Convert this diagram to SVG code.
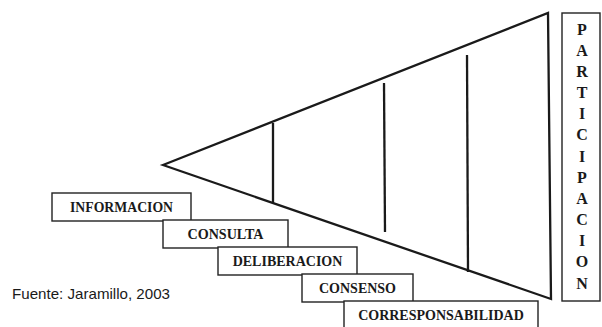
<svg xmlns="http://www.w3.org/2000/svg" width="602" height="327" viewBox="0 0 602 327">
<style>
.box{fill:#fff;stroke:#222;stroke-width:1.4}
.lbl{font-family:"Liberation Serif","Times New Roman",serif;font-weight:bold;font-size:14px;fill:#1a1a1a;text-anchor:middle}
.vl{font-family:"Liberation Serif","Times New Roman",serif;font-weight:bold;font-size:16px;fill:#1a1a1a;text-anchor:middle}
.ln{stroke:#1a1a1a;stroke-width:2.3;fill:none;stroke-linejoin:miter}
</style>
<rect width="602" height="327" fill="#fff"/>
<g id="connectors">
<polygon class="ln" points="163,165 548,13 551,299"/>
<line class="ln" x1="273" y1="123" x2="273" y2="203"/>
<line class="ln" x1="384" y1="83" x2="385" y2="232"/>
<line class="ln" x1="467" y1="55" x2="468" y2="272"/>
</g>
<g id="informacion"><rect class="box" x="52" y="193" width="139" height="28"/><text class="lbl" x="121.5" y="212" textLength="103" lengthAdjust="spacingAndGlyphs">INFORMACION</text></g>
<g id="consulta"><rect class="box" x="163" y="220" width="125" height="28"/><text class="lbl" x="225.5" y="239" textLength="76" lengthAdjust="spacingAndGlyphs">CONSULTA</text></g>
<g id="deliberacion"><rect class="box" x="218" y="247" width="139" height="28"/><text class="lbl" x="287.5" y="266">DELIBERACION</text></g>
<g id="consenso"><rect class="box" x="302" y="274" width="111" height="28"/><text class="lbl" x="357.5" y="293">CONSENSO</text></g>
<g id="corresponsabilidad"><rect class="box" x="344" y="301" width="194" height="30"/><text class="lbl" x="441" y="320">CORRESPONSABILIDAD</text></g>
<g id="participacion">
<rect class="box" x="562" y="13" width="38" height="288"/>
<text class="vl" x="582" y="34.5">P</text>
<text class="vl" x="582" y="55.7">A</text>
<text class="vl" x="582" y="76.8">R</text>
<text class="vl" x="582" y="98">T</text>
<text class="vl" x="582" y="119.2">I</text>
<text class="vl" x="582" y="140.3">C</text>
<text class="vl" x="582" y="161.5">I</text>
<text class="vl" x="582" y="182.7">P</text>
<text class="vl" x="582" y="203.8">A</text>
<text class="vl" x="582" y="225">C</text>
<text class="vl" x="582" y="246.2">I</text>
<text class="vl" x="582" y="267.3">O</text>
<text class="vl" x="582" y="288.5">N</text>
</g>
<g id="fuente"><text x="12" y="299" font-family="Liberation Sans, Arial, sans-serif" font-size="14.5" fill="#1a1a1a" textLength="158" lengthAdjust="spacingAndGlyphs">Fuente: Jaramillo, 2003</text></g>
</svg>
